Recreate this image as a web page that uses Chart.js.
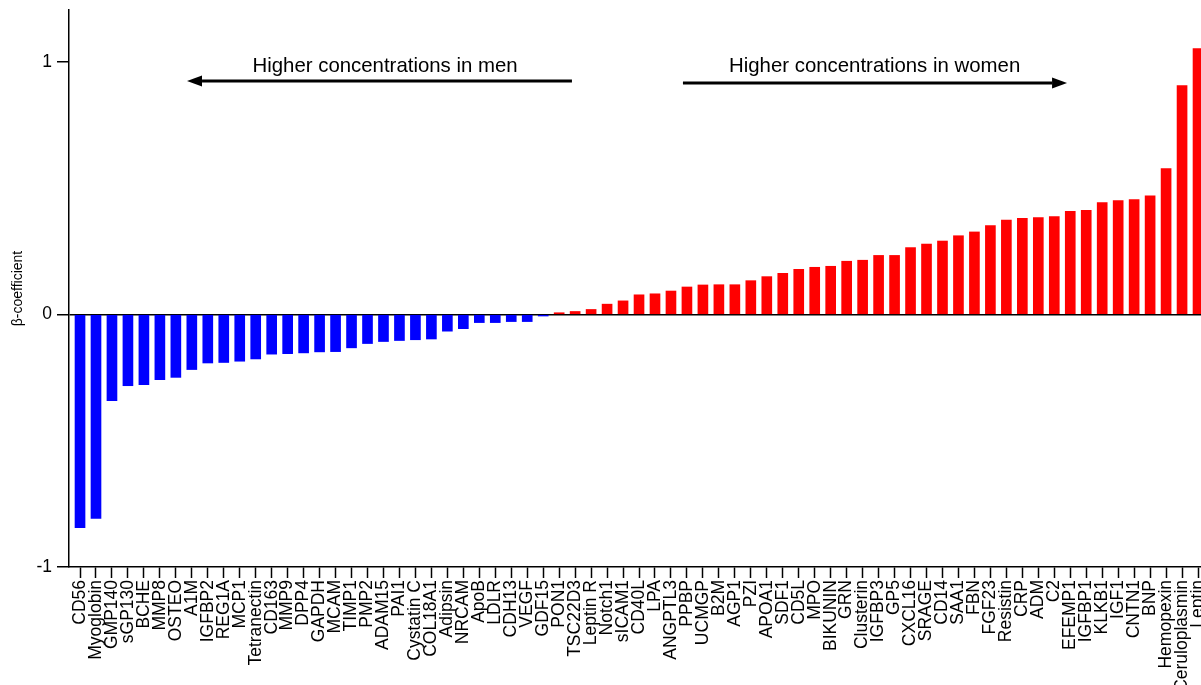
<!DOCTYPE html>
<html>
<head>
<meta charset="utf-8">
<script src="https://cdn.jsdelivr.net/npm/chart.js@4/dist/chart.umd.min.js"></script>
<style>
  html, body { margin: 0; padding: 0; background: #fff; overflow: hidden; }
  #wrap { width: 1214px; height: 685px; }
</style>
</head>
<body>
<div id="wrap"><canvas id="c" width="1214" height="685"></canvas></div>
<script>
// Proteins, ordered by sex-difference coefficient
const categories = [
  'CD56', 'Myoglobin', 'GMP140', 'sGP130', 'BCHE', 'MMP8', 'OSTEO', 'A1M', 'IGFBP2', 'REG1A',
  'MCP1', 'Tetranectin', 'CD163', 'MMP9', 'DPP4', 'GAPDH', 'MCAM', 'TIMP1', 'PMP2', 'ADAM15',
  'PAI1', 'Cystatin C', 'COL18A1', 'Adipsin', 'NRCAM', 'ApoB', 'LDLR', 'CDH13', 'VEGF', 'GDF15',
  'PON1', 'TSC22D3', 'Leptin R', 'Notch1', 'sICAM1', 'CD40L', 'LPA', 'ANGPTL3', 'PPBP', 'UCMGP',
  'B2M', 'AGP1', 'PZI', 'APOA1', 'SDF1', 'CD5L', 'MPO', 'BIKUNIN', 'GRN', 'Clusterin',
  'IGFBP3', 'GP5', 'CXCL16', 'SRAGE', 'CD14', 'SAA1', 'FBN', 'FGF23', 'Resistin', 'CRP',
  'ADM', 'C2', 'EFEMP1', 'IGFBP1', 'KLKB1', 'IGF1', 'CNTN1', 'BNP', 'Hemopexin', 'Ceruloplasmin',
  'Leptin'
];

// β-coefficients (negative: higher in men, positive: higher in women)
const betas = [
  -0.844, -0.808, -0.341, -0.282, -0.278, -0.258, -0.249, -0.218, -0.192, -0.190,
  -0.185, -0.176, -0.157, -0.155, -0.152, -0.148, -0.147, -0.132, -0.115, -0.107,
  -0.103, -0.100, -0.097, -0.066, -0.056, -0.032, -0.032, -0.028, -0.028, -0.006,
   0.007,  0.012,  0.020,  0.041,  0.054,  0.078,  0.082,  0.093,  0.109,  0.117,
   0.118,  0.118,  0.134,  0.150,  0.163,  0.179,  0.187,  0.191,  0.211,  0.215,
   0.234,  0.234,  0.265,  0.279,  0.291,  0.312,  0.327,  0.352,  0.374,  0.381,
   0.384,  0.388,  0.409,  0.413,  0.443,  0.451,  0.455,  0.470,  0.578,  0.907,
   1.053
];

const yTicks = [-1, 0, 1];
const yAxisTitle = 'β-coefficient';
const menNote = 'Higher concentrations in men';
const womenNote = 'Higher concentrations in women';

const FONT = '"Liberation Sans", Arial, Helvetica, sans-serif';

// Direction notes with arrows, placed in data units
const arrowNotes = {
  id: 'arrowNotes',
  afterDatasetsDraw(chart) {
    const { ctx, scales: { x, y } } = chart;
    const notes = [
      { text: menNote, textX: 19.1, textY: 0.960, from: 30.8, to: 6.7, lineY: 0.925 },
      { text: womenNote, textX: 49.75, textY: 0.960, from: 37.75, to: 61.8, lineY: 0.917 }
    ];
    ctx.save();
    ctx.fillStyle = '#000';
    ctx.strokeStyle = '#000';
    ctx.font = '20.4px ' + FONT;
    ctx.textAlign = 'center';
    ctx.textBaseline = 'alphabetic';
    for (const n of notes) {
      ctx.fillText(n.text, x.getPixelForValue(n.textX), y.getPixelForValue(n.textY));
      const py = y.getPixelForValue(n.lineY);
      const x0 = x.getPixelForValue(n.from);
      const tip = x.getPixelForValue(n.to);
      const dir = Math.sign(tip - x0);
      const headLen = 15, headHalf = 5.5;
      ctx.lineWidth = 3;
      ctx.beginPath();
      ctx.moveTo(x0, py);
      ctx.lineTo(tip - dir * headLen, py);
      ctx.stroke();
      ctx.beginPath();
      ctx.moveTo(tip, py);
      ctx.lineTo(tip - dir * headLen, py - headHalf);
      ctx.lineTo(tip - dir * headLen, py + headHalf);
      ctx.closePath();
      ctx.fill();
    }
    ctx.restore();
  }
};

new Chart(document.getElementById('c'), {
  type: 'bar',
  data: {
    datasets: [{
      data: betas.map((v, i) => ({ x: i, y: v })),
      backgroundColor: betas.map(v => (v < 0 ? '#0000ff' : '#ff0000')),
      borderWidth: 0,
      barThickness: 10
    }]
  },
  options: {
    responsive: false,
    animation: false,
    events: [],
    layout: { padding: { top: 10, left: 0, right: 0, bottom: 0 } },
    plugins: { legend: { display: false }, tooltip: { enabled: false } },
    scales: {
      x: {
        type: 'linear',
        offset: false,
        min: -0.69,
        max: 71,
        afterBuildTicks: (scale) => { scale.ticks = categories.map((_, i) => ({ value: i })); },
        afterFit: (scale) => { scale.height = 118; scale.paddingLeft = 0; scale.paddingRight = 0; },
        border: { display: true, color: '#000', width: 1.5 },
        grid: { offset: false, drawOnChartArea: false, drawTicks: true, tickLength: 11, tickColor: '#000', tickWidth: 1.5 },
        ticks: {
          autoSkip: false,
          minRotation: 90,
          maxRotation: 90,
          padding: 2,
          color: '#000',
          font: { family: FONT, size: 17.5 },
          callback: (value, index) => categories[index]
        }
      },
      y: {
        min: -1,
        max: 1.206,
        afterBuildTicks: (scale) => { scale.ticks = yTicks.map(v => ({ value: v })); },
        afterFit: (scale) => { scale.width = 69; scale.paddingTop = 0; scale.paddingBottom = 0; },
        border: { display: true, color: '#000', width: 1.5 },
        grid: {
          drawOnChartArea: true,
          color: (c) => (c.tick && c.tick.value === 0 ? '#000' : 'rgba(0,0,0,0)'),
          lineWidth: 1.5,
          tickLength: 12,
          tickColor: '#000',
          tickWidth: 1.5
        },
        ticks: {
          padding: 5,
          color: '#000',
          font: { family: FONT, size: 17.5 },
          callback: (v) => String(v)
        },
        title: {
          display: true,
          text: yAxisTitle,
          color: '#000',
          font: { family: FONT, size: 14 },
          padding: { top: 10, bottom: 0 }
        }
      }
    }
  },
  plugins: [arrowNotes]
});
</script>
</body>
</html>
